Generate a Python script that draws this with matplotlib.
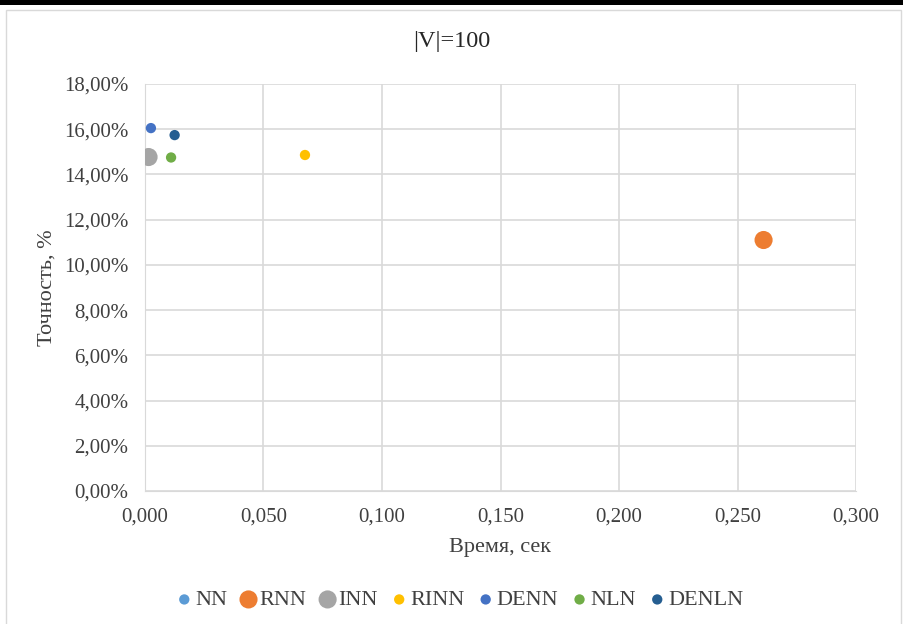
import matplotlib.pyplot as plt
from matplotlib.patches import Rectangle
from matplotlib.ticker import FuncFormatter, MultipleLocator

plt.rcParams['font.family'] = ['Liberation Serif', 'DejaVu Serif']

# data
methods = ['NN', 'RNN', 'INN', 'RINN', 'DENN', 'NLN', 'DENLN']
times = [0.001, 0.261, 0.0015, 0.0675, 0.0025, 0.011, 0.0125]
accuracy = [0.1477, 0.1110, 0.1477, 0.1486, 0.1605, 0.1475, 0.1574]
colors = ['#5B9BD5', '#ED7D31', '#A5A5A5', '#FFC000', '#4472C4', '#70AD47', '#255E91']
sizes = [55, 170, 170, 55, 55, 55, 55]

W, H = 904, 624
fig = plt.figure(figsize=(W / 100, H / 100), dpi=100)

# thick black line on top + light chart frame
fig.add_artist(Rectangle((0, 1 - 5 / H), 1, 5 / H, transform=fig.transFigure,
                         facecolor='black', edgecolor='none'))
fig.add_artist(Rectangle((6 / W, -0.01), 895 / W, 1 - 10 / H + 0.01,
                         transform=fig.transFigure, facecolor='none',
                         edgecolor='#D9D9D9', lw=1))

ax = fig.add_axes([145 / W, 1 - 491 / H, 711 / W, 407 / H])
for m, x, y, c, s in zip(methods, times, accuracy, colors, sizes):
    ax.scatter(x, y, s=s, color=c, label=m, zorder=3, edgecolors='none')

ax.set_xlim(0, 0.3)
ax.set_ylim(0, 0.18)
ax.xaxis.set_major_locator(MultipleLocator(0.05))
ax.yaxis.set_major_locator(MultipleLocator(0.02))
ax.xaxis.set_major_formatter(FuncFormatter(lambda v, p: f'{v:.3f}'.replace('.', ',')))
ax.yaxis.set_major_formatter(FuncFormatter(lambda v, p: f'{v * 100:.2f}%'.replace('.', ',')))
ax.grid(True, color='#D9D9D9', lw=1.2)
ax.set_axisbelow(True)
for sp in ax.spines.values():
    sp.set_visible(False)
ax.spines['bottom'].set_visible(True)
ax.spines['bottom'].set_color('#D9D9D9')
ax.spines['left'].set_visible(True)
ax.spines['left'].set_color('#D9D9D9')
ax.tick_params(length=0, labelsize=15, colors='#404040')
ax.tick_params(axis='x', pad=12)
ax.tick_params(axis='y', pad=12)

ax.set_xlabel('Время, сек', fontsize=16, color='#404040', labelpad=8)
ax.set_ylabel('Точность, %', fontsize=16, color='#404040', labelpad=5)
fig.text(0.5, 1 - 42 / H, '|V|=100', ha='center', va='center', fontsize=17.5, color='#262626')

ax.legend(loc='center', bbox_to_anchor=(460 / W, 1 - 600 / H), bbox_transform=fig.transFigure,
          ncol=7, frameon=False, fontsize=16, handlelength=0.7, handletextpad=0.15,
          columnspacing=0.6, labelcolor='#404040', scatterpoints=1, borderaxespad=0)

fig.savefig('out.png', dpi=100)
